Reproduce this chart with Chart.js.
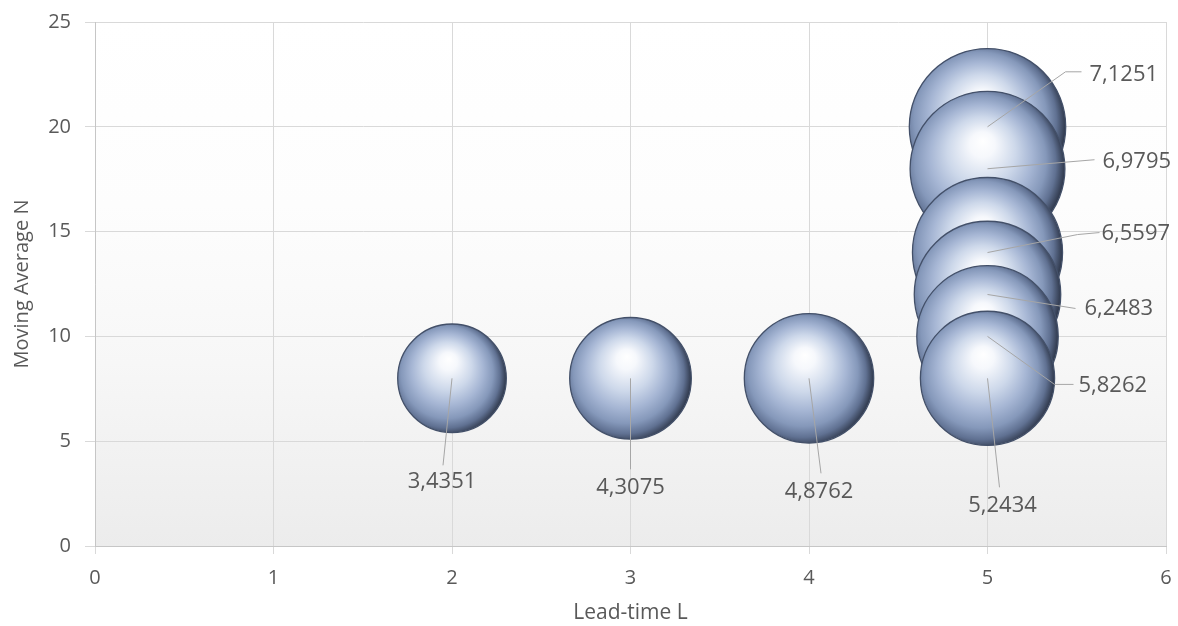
<!DOCTYPE html>
<html><head><meta charset="utf-8">
<script src="https://cdn.jsdelivr.net/npm/chart.js@4.4.1/dist/chart.umd.min.js"></script>
<style>html,body{margin:0;padding:0;background:#fff;overflow:hidden}#wrap{width:1178px;height:626px;position:relative}</style>
</head><body><div id="wrap"><canvas id="c"></canvas></div>
<script>
// ---- data ----
const leadTime      = [2, 3, 4, 5, 5, 5, 5, 5, 5];
const movingAverage = [8, 8, 8, 8, 10, 12, 14, 18, 20];
const bubbleSize    = [3.4351, 4.3075, 4.8762, 5.2434, 5.8262, 6.2483, 6.5597, 6.9795, 7.1251];
const sizeLabels    = ['3,4351', '4,3075', '4,8762', '5,2434', '5,8262', '6,2483', '6,5597', '6,9795', '7,1251'];
const xTickValues   = [0, 1, 2, 3, 4, 5, 6];
const yTickValues   = [0, 5, 10, 15, 20, 25];
const xTitle = 'Lead-time L';
const yTitle = 'Moving Average N';

// ---- styling (label placement offsets in px relative to bubble centre) ----
const BUBBLE_SCALE = 29.3;
const labelPlacement = [
  {leader: [[-9, 87]],             text: [-10, 103], align: 'center'},
  {leader: [[0, 91]],              text: [0, 109],   align: 'center'},
  {leader: [[12, 95]],             text: [10, 113],  align: 'center'},
  {leader: [[12, 109]],            text: [15, 127],  align: 'center'},
  {leader: [[67, 48], [86, 48]],   text: [91, 49],   align: 'left'},
  {leader: [[88, 14]],             text: [97, 14],   align: 'left'},
  {leader: [[90, -18], [112, -20]],text: [114, -19], align: 'left'},
  {leader: [[107, -9]],            text: [115, -7],  align: 'left'},
  {leader: [[78, -55], [94, -55]], text: [102, -52], align: 'left'}
];

const FONT = "'Open Sans', 'Noto Sans', sans-serif";
const TEXT = '#595959';

// bubbles drawn largest first (as in the reference)
const order = bubbleSize.map((s, i) => i).sort((a, b) => bubbleSize[b] - bubbleSize[a]);
const points = order.map(i => ({x: leadTime[i], y: movingAverage[i], r: Math.sqrt(bubbleSize[i]) * BUBBLE_SCALE, i}));

function sphereGradient(ctx, x, y, r) {
  const g = ctx.createRadialGradient(x - 0.06 * r, y - 0.36 * r, 0, x - 0.1 * r, y - 0.03 * r, r * 1.1);
  g.addColorStop(0, '#ffffff');
  g.addColorStop(0.15, '#f6f8fc');
  g.addColorStop(0.4, '#cdd8ea');
  g.addColorStop(0.6, '#a6b6d4');
  g.addColorStop(0.77, '#8598ba');
  g.addColorStop(0.89, '#607192');
  g.addColorStop(1, '#2f384b');
  return g;
}

const plotBg = {
  id: 'plotBg',
  beforeDraw(chart) {
    const {ctx, chartArea: a} = chart;
    const g = ctx.createLinearGradient(0, a.top, 0, a.bottom);
    g.addColorStop(0, '#ffffff');
    g.addColorStop(0.35, '#fdfdfd');
    g.addColorStop(0.65, '#f7f7f7');
    g.addColorStop(1, '#ececec');
    ctx.save();
    ctx.fillStyle = g;
    ctx.fillRect(a.left, a.top, a.right - a.left, a.bottom - a.top);
    ctx.restore();
  }
};

// give each bubble element a sphere shading based on its own position/radius
const sphereShade = {
  id: 'sphereShade',
  beforeDatasetsDraw(chart) {
    const meta = chart.getDatasetMeta(0);
    meta.data.forEach(el => {
      const r = el.options.radius;
      if (isFinite(el.x) && isFinite(el.y) && isFinite(r) && r > 0) {
        el.options.backgroundColor = sphereGradient(chart.ctx, el.x, el.y, r);
      }
    });
  }
};

const bubbleLabels = {
  id: 'bubbleLabels',
  afterDatasetsDraw(chart) {
    const ctx = chart.ctx;
    const meta = chart.getDatasetMeta(0);
    ctx.save();
    meta.data.forEach((el, k) => {
      const idx = points[k].i;
      const p = labelPlacement[idx];
      ctx.strokeStyle = '#a6a6a6';
      ctx.lineWidth = 1;
      ctx.beginPath();
      ctx.moveTo(el.x, el.y);
      p.leader.forEach(([dx, dy]) => ctx.lineTo(el.x + dx, el.y + dy));
      ctx.stroke();
      ctx.fillStyle = TEXT;
      ctx.font = "22px " + FONT;
      ctx.textAlign = p.align;
      ctx.textBaseline = 'middle';
      ctx.fillText(sizeLabels[idx], el.x + p.text[0], el.y + p.text[1]);
    });
    ctx.restore();
  }
};

new Chart(document.getElementById('c'), {
  type: 'bubble',
  data: {
    datasets: [{
      data: points,
      backgroundColor: '#b4c3dd',
      borderColor: '#435069',
      borderWidth: 1.3,
      hoverBorderWidth: 1.3
    }]
  },
  options: {
    responsive: true,
    maintainAspectRatio: false,
    animation: false,
    events: [],
    layout: {autoPadding: false, padding: {left: 0, right: 12, top: 22, bottom: 0}},
    plugins: {legend: {display: false}, tooltip: {enabled: false}},
    scales: {
      x: {
        type: 'linear', min: 0, max: 6,
        afterBuildTicks: s => { s.ticks = xTickValues.map(v => ({value: v})); },
        afterFit: s => { s.height = 80; s.paddingLeft = 0; s.paddingRight = 0; },
        grid: {color: '#d9d9d9', lineWidth: 1, tickLength: 8, drawTicks: true},
        border: {color: '#c6c6c6'},
        ticks: {color: TEXT, font: {family: FONT, size: 20}, padding: 12, maxRotation: 0},
        title: {display: true, text: xTitle, color: TEXT, font: {family: FONT, size: 21}, padding: {top: 0, bottom: 0}}
      },
      y: {
        type: 'linear', min: 0, max: 25,
        afterBuildTicks: s => { s.ticks = yTickValues.map(v => ({value: v})); },
        afterFit: s => { s.width = 95; s.paddingTop = 0; s.paddingBottom = 0; },
        grid: {color: '#d9d9d9', lineWidth: 1, tickLength: 10, drawTicks: true},
        border: {color: '#c6c6c6'},
        ticks: {color: TEXT, font: {family: FONT, size: 20}, padding: 14},
        title: {display: true, text: yTitle, color: TEXT, font: {family: FONT, size: 20}, padding: {top: 10, bottom: 0}}
      }
    }
  },
  plugins: [plotBg, sphereShade, bubbleLabels]
});
</script></body></html>
